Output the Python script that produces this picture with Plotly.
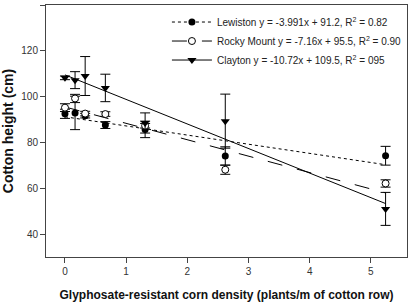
import plotly.graph_objects as go

density = [0, 0.165, 0.33, 0.66, 1.31, 2.62, 5.24]

lewiston_y = [92.5, 92.9, 91.7, 87.6, 85.7, 74.1, 74.2]
lewiston_err = [2.0, 7.3, 1.0, 1.5, 3.6, 4.0, 4.1]
rocky_y = [95.2, 99.2, 92.6, 92.4, 87.3, 68.1, 62.1]
rocky_err = [1.7, 1.8, 1.0, 1.0, 1.0, 2.0, 1.6]
clayton_y = [108.2, 107.2, 109.0, 103.8, 88.5, 89.3, 51.0]
clayton_err = [0.8, 3.7, 8.5, 6.0, 4.4, 11.8, 7.2]

slopes = [-3.991, -7.16, -10.72]
intercepts = [91.2, 95.5, 109.5]
names = ["Lewiston y = -3.991x + 91.2, R<sup>2</sup> = 0.82",
         "Rocky Mount y = -7.16x + 95.5, R<sup>2</sup> = 0.90",
         "Clayton y = -10.72x + 109.5, R<sup>2</sup> = 095"]

open_marker = dict(symbol="circle", color="white", size=7, line=dict(width=1, color="black"))
series = [
    (lewiston_y, lewiston_err, dict(symbol="circle", color="black", size=7), "dot"),
    (rocky_y, rocky_err, open_marker, "longdash"),
    (clayton_y, clayton_err, dict(symbol="triangle-down", color="black", size=8), "solid"),
]

fig = go.Figure()
xfit = [density[0], density[-1]]
for i, (ys, errs, mk, dash) in enumerate(series):
    fig.add_trace(go.Scatter(
        x=xfit, y=[intercepts[i] + slopes[i] * v for v in xfit],
        mode="lines", line=dict(color="black", width=1, dash=dash),
        showlegend=False, hoverinfo="skip"))
for i, (ys, errs, mk, dash) in enumerate(series):
    fig.add_trace(go.Scatter(
        x=density, y=ys, mode="markers", marker=mk,
        error_y=dict(type="data", array=errs, visible=True, color="black", thickness=1, width=5),
        showlegend=False))
for i, (ys, errs, mk, dash) in enumerate(series):
    fig.add_trace(go.Scatter(
        x=[None], y=[None], mode="lines+markers", name=names[i],
        marker=mk, line=dict(color="black", width=1, dash=dash)))

fig.update_layout(
    width=410, height=302,
    margin=dict(l=46, r=3, t=5, b=45, autoexpand=False),
    paper_bgcolor="white", plot_bgcolor="white",
    font=dict(family="Liberation Sans, Arial, sans-serif", size=10, color="#222"),
    legend=dict(x=0.335, y=0.99, xanchor="left", yanchor="top",
                bgcolor="rgba(0,0,0,0)", font=dict(size=10, color="#222"),
                itemwidth=40, tracegroupgap=0),
    xaxis=dict(range=[-0.31, 5.59], tickvals=[0, 1, 2, 3, 4, 5],
               showgrid=False, zeroline=False, showline=True, linecolor="#444",
               mirror=True, ticks="outside", ticklen=5, tickcolor="#444",
               tickfont=dict(size=10, color="#333"),
               title=dict(text="<b>Glyphosate-resistant corn density (plants/m of cotton row)</b>",
                          font=dict(size=12, color="#111"), standoff=14)),
    yaxis=dict(range=[30, 140], tickvals=[40, 60, 80, 100, 120, 140],
               showgrid=False, zeroline=False, showline=True, linecolor="#444",
               mirror=True, ticks="outside", ticklen=5, tickcolor="#444",
               tickfont=dict(size=10, color="#333"),
               title=dict(text="<b>Cotton height (cm)</b>",
                          font=dict(size=14, color="#111"), standoff=8)),
)

fig.write_html("out.html")
